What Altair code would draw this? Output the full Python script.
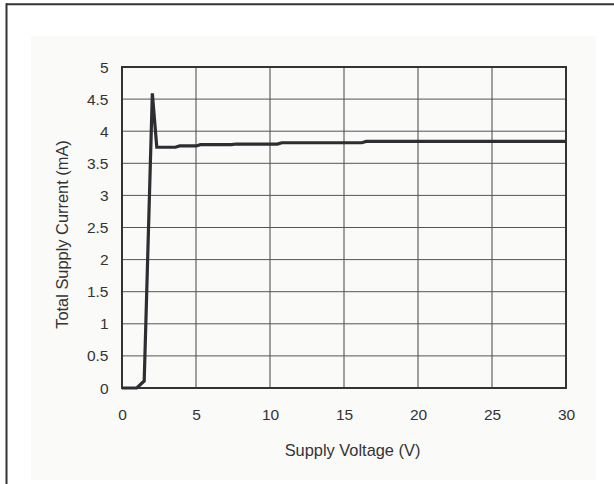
import altair as alt
import pandas as pd

# Supply voltage (V) and total supply current (mA)
voltage = [0, 1.0, 1.5, 2.05, 2.35, 3.6, 3.9, 5.0, 5.3, 7.4, 7.7, 10.5, 10.8, 16.2, 16.5, 30]
current = [0, 0, 0.11, 4.59, 3.75, 3.75, 3.77, 3.77, 3.79, 3.79, 3.80, 3.80, 3.82, 3.82, 3.84, 3.84]

x_ticks = [0, 5, 10, 15, 20, 25, 30]
y_ticks = [0, 0.5, 1, 1.5, 2, 2.5, 3, 3.5, 4, 4.5, 5]

W, H = 444, 321
FONT = "Liberation Sans"
TXT = "#333333"
PANEL = "#fafaf9"

df = pd.DataFrame({"V": voltage, "I": current})
one = pd.DataFrame({"k": [0]})

xs = alt.Scale(domain=[0, 30], nice=False, zero=False)
ys = alt.Scale(domain=[0, 5], nice=False, zero=False)

x_axis = alt.Axis(
    title="Supply Voltage (V)", values=x_ticks, format="~g", grid=False, domain=False,
    ticks=False, labelPadding=19, labelFontSize=15.5, labelFont=FONT, labelColor=TXT,
    labelFlush=False, labelOverlap=False,
    titleFontSize=16.4, titleFont=FONT, titleColor=TXT, titleFontWeight="normal",
    titleBaseline="alphabetic", titleY=67, titleX=W / 2 + 8, zindex=2,
)
y_axis = alt.Axis(
    title="Total Supply Current (mA)", values=y_ticks, format="~g", grid=False, domain=False,
    ticks=False, labelPadding=14, labelFontSize=15.5, labelFont=FONT, labelColor=TXT,
    labelFlush=False, labelOverlap=False,
    titleFontSize=16.4, titleFont=FONT, titleColor=TXT, titleFontWeight="normal",
    titleBaseline="alphabetic", titleX=-55, titleY=167, titleAngle=270, zindex=2,
)

# Light panel behind the plot
panel = alt.Chart(one).mark_rect(fill=PANEL).encode(
    x=alt.value(31 - 122), x2=alt.value(596 - 122),
    y=alt.value(36 - 67), y2=alt.value(480 - 67),
)

# Outer frame (top and left edges visible)
frame_top = alt.Chart(one).mark_rule(color="#333333", strokeWidth=2).encode(
    x=alt.value(6 - 122), x2=alt.value(614 - 122 + 5), y=alt.value(4.2 - 67)
)
frame_left = alt.Chart(one).mark_rule(color="#333333", strokeWidth=2).encode(
    x=alt.value(6.5 - 122), y=alt.value(3.2 - 67), y2=alt.value(484 - 67 + 5)
)

grid_x = alt.Chart(pd.DataFrame({"g": x_ticks})).mark_rule(color="#444444", strokeWidth=1).encode(
    x=alt.X("g:Q", scale=xs, axis=x_axis)
)
grid_y = alt.Chart(pd.DataFrame({"g": y_ticks})).mark_rule(color="#555555", strokeWidth=1).encode(
    y=alt.Y("g:Q", scale=ys, axis=y_axis)
)

box = alt.Chart(pd.DataFrame({"x0": [0], "x1": [30], "y0": [0], "y1": [5]})).mark_rect(
    fill=None, stroke="#333333", strokeWidth=2
).encode(
    x=alt.X("x0:Q", scale=xs, axis=x_axis), x2="x1:Q",
    y=alt.Y("y0:Q", scale=ys, axis=y_axis), y2="y1:Q",
)

line = alt.Chart(df).mark_line(color="#2e2e32", strokeWidth=3.2, strokeJoin="miter").encode(
    x=alt.X("V:Q", scale=xs, axis=x_axis),
    y=alt.Y("I:Q", scale=ys, axis=y_axis),
)

chart = alt.layer(panel, frame_top, frame_left, grid_x, grid_y, box, line).properties(
    width=W, height=H,
    autosize=alt.AutoSizeParams(type="none"),
    padding={"left": 122, "top": 67, "right": 48, "bottom": 96},
    background="white",
).configure_view(stroke=None)

chart.save("out.html", embed_options={"renderer": "svg", "actions": False})
